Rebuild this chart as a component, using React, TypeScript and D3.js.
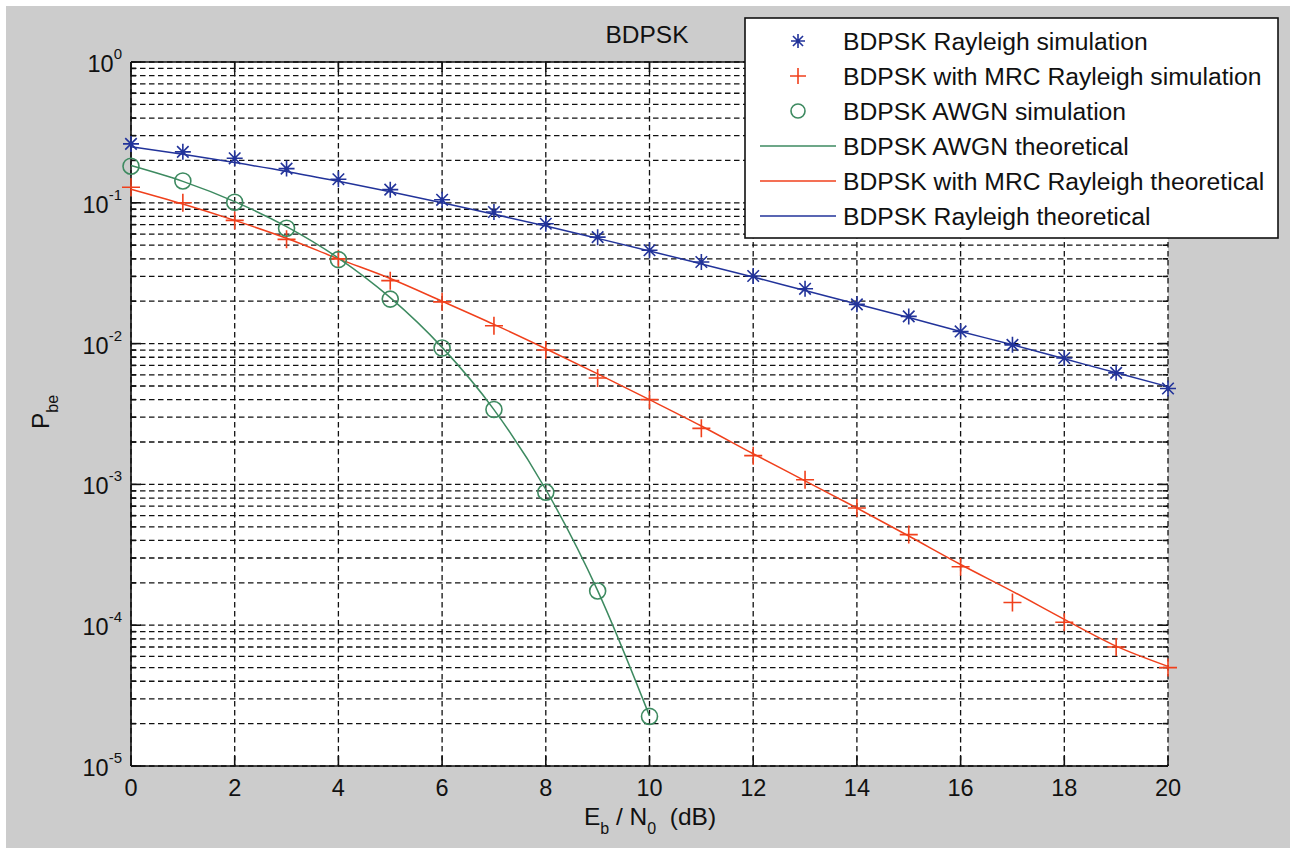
import React from "react";
import * as d3 from "d3";

// Eb/N0 (dB) sample points
const snrDb = [0, 1, 2, 3, 4, 5, 6, 7, 8, 9, 10, 11, 12, 13, 14, 15, 16, 17, 18, 19, 20];
const snrAwgn = [0, 1, 2, 3, 4, 5, 6, 7, 8, 9, 10];

// values
const rayleighSim = [0.262, 0.23, 0.207, 0.175, 0.147, 0.124, 0.105, 0.086, 0.071, 0.057, 0.046, 0.038, 0.0302, 0.0245, 0.019, 0.0156, 0.0122, 0.0098, 0.0079, 0.0062, 0.0048];
const rayleighTheory = [0.25, 0.221, 0.193, 0.167, 0.142, 0.12, 0.1, 0.083, 0.0684, 0.0559, 0.0455, 0.0368, 0.0297, 0.0238, 0.0191, 0.0153, 0.0122, 0.0098, 0.0078, 0.0062, 0.00495];
const mrcSim = [0.129, 0.1, 0.075, 0.055, 0.04, 0.028, 0.0198, 0.0134, 0.009, 0.0057, 0.004, 0.0025, 0.0016, 0.00108, 0.00068, 0.00044, 0.00026, 0.000145, 0.000105, 0.00007, 0.00005];
const mrcTheory = [0.125, 0.098, 0.075, 0.056, 0.04, 0.029, 0.02, 0.0137, 0.0092, 0.0061, 0.004, 0.0026, 0.00165, 0.00106, 0.00068, 0.00043, 0.00027, 0.000174, 0.00011, 0.000071, 0.000051];
const awgnSim = [0.182, 0.143, 0.101, 0.066, 0.0395, 0.0207, 0.0093, 0.0034, 0.00088, 0.000175, 0.0000225];
const awgnTheory = [0.184, 0.142, 0.102, 0.0677, 0.0405, 0.0212, 0.0094, 0.0034, 0.00092, 0.000176, 0.0000227];

const yDecades = [0, -1, -2, -3, -4, -5];
const legendLabels = [
  "BDPSK Rayleigh simulation",
  "BDPSK with MRC Rayleigh simulation",
  "BDPSK AWGN simulation",
  "BDPSK AWGN theoretical",
  "BDPSK with MRC Rayleigh theoretical",
  "BDPSK Rayleigh theoretical",
];

const W = 1290;
const H = 848;
const plot = { left: 131, right: 1168, top: 62, bottom: 766 };
const FONT = "'Liberation Sans', Arial, Helvetica, sans-serif";
const BLUE = "#22339a";
const RED = "#f0401c";
const GREEN = "#3d8a60";

const starPath = (s: number) => {
  const d = s * 0.72;
  return `M${-s},0H${s}M0,${-s}V${s}M${-d},${-d}L${d},${d}M${-d},${d}L${d},${-d}`;
};
const plusPath = (s: number) => `M${-s},0H${s}M0,${-s}V${s}`;

export default function App() {
  const x = d3.scaleLinear().domain([0, 20]).range([plot.left, plot.right]);
  const y = d3.scaleLog().domain([1e-5, 1]).range([plot.bottom, plot.top]);

  const line = (xs: number[], ys: number[]) =>
    d3
      .line<number>()
      .x((d, i) => x(xs[i]))
      .y((d) => y(d))
      .curve(d3.curveMonotoneX)(ys) || "";

  const yTicks = y.ticks();
  const xTicks = x.ticks(10);
  const isMajor = (v: number) => Math.abs(Math.log10(v) - Math.round(Math.log10(v))) < 1e-9;

  const grid = { stroke: "#111", strokeWidth: 1.3, strokeDasharray: "5.5,3.5" };

  return (
    <svg
      width={W}
      height={H}
      style={{ position: "absolute", left: 0, top: 0, fontFamily: FONT }}
    >
      <rect x={0} y={0} width={W} height={H} fill="#fff" />
      <rect x={6} y={6} width={W - 6} height={H - 6} fill="#cccccc" />
      <rect
        x={plot.left}
        y={plot.top}
        width={plot.right - plot.left}
        height={plot.bottom - plot.top}
        fill="#fff"
      />

      {/* grid */}
      {yTicks.map((v, i) => (
        <line key={"gy" + i} x1={plot.left} x2={plot.right} y1={y(v)} y2={y(v)} {...grid} />
      ))}
      {xTicks.map((v, i) => (
        <line key={"gx" + i} x1={x(v)} x2={x(v)} y1={plot.top} y2={plot.bottom} {...grid} />
      ))}

      {/* axes */}
      <g stroke="#111" strokeWidth={1.6}>
        <line x1={plot.left} x2={plot.right} y1={plot.bottom} y2={plot.bottom} />
        <line x1={plot.left} x2={plot.right} y1={plot.top} y2={plot.top} />
        <line x1={plot.left} x2={plot.left} y1={plot.top} y2={plot.bottom} />
        {yTicks.map((v, i) => {
          const len = isMajor(v) ? 10 : 5;
          return (
            <g key={"ty" + i}>
              <line x1={plot.left} x2={plot.left + len} y1={y(v)} y2={y(v)} />
              <line x1={plot.right} x2={plot.right - len} y1={y(v)} y2={y(v)} />
            </g>
          );
        })}
        {xTicks.map((v, i) => (
          <g key={"tx" + i}>
            <line x1={x(v)} x2={x(v)} y1={plot.bottom} y2={plot.bottom - 10} />
            <line x1={x(v)} x2={x(v)} y1={plot.top} y2={plot.top + 10} />
          </g>
        ))}
      </g>

      {/* tick labels */}
      {yDecades.map((k) => (
        <text key={"ly" + k} x={122} y={y(Math.pow(10, k)) + 10} textAnchor="end" fontSize={23.5} fill="#111">
          10
          <tspan fontSize={15} dy={-13}>
            {k}
          </tspan>
        </text>
      ))}
      {xTicks.map((v) => (
        <text key={"lx" + v} x={x(v)} y={796} textAnchor="middle" fontSize={23.5} fill="#111">
          {v}
        </text>
      ))}

      {/* titles */}
      <text x={647} y={43} textAnchor="middle" fontSize={24.5} fill="#111">
        BDPSK
      </text>
      <text x={650} y={825} textAnchor="middle" fontSize={24.5} fill="#111">
        E
        <tspan fontSize={16} dy={9}>b</tspan>
        <tspan dy={-9}> / N</tspan>
        <tspan fontSize={16} dy={9}>0</tspan>
        <tspan dy={-9} xmlSpace="preserve">{"  (dB)"}</tspan>
      </text>
      <text
        transform={`translate(49,412) rotate(-90)`}
        textAnchor="middle"
        fontSize={24.5}
        fill="#111"
      >
        P<tspan fontSize={16} dy={9}>be</tspan>
      </text>

      {/* curves */}
      <path d={line(snrDb, rayleighTheory)} fill="none" stroke={BLUE} strokeWidth={1.5} />
      <path d={line(snrDb, mrcTheory)} fill="none" stroke={RED} strokeWidth={1.5} />
      <path d={line(snrAwgn, awgnTheory)} fill="none" stroke={GREEN} strokeWidth={1.5} />

      {/* markers */}
      {rayleighSim.map((v, i) => (
        <path key={"ms" + i} transform={`translate(${x(snrDb[i])},${y(v)})`} d={starPath(8)} stroke={BLUE} strokeWidth={1.6} fill="none" />
      ))}
      {mrcSim.map((v, i) => (
        <path key={"mp" + i} transform={`translate(${x(snrDb[i])},${y(v)})`} d={plusPath(9)} stroke={RED} strokeWidth={1.6} fill="none" />
      ))}
      {awgnSim.map((v, i) => (
        <circle key={"mc" + i} cx={x(snrAwgn[i])} cy={y(v)} r={8} stroke={GREEN} strokeWidth={1.6} fill="none" />
      ))}

      {/* legend */}
      <g>
        <rect x={745} y={18} width={533} height={220} fill="#fff" stroke="#111" strokeWidth={1.6} />
        {legendLabels.map((label, i) => {
          const cy = 41 + i * 35;
          return (
            <g key={"lg" + i}>
              {i === 0 && <path transform={`translate(798,${cy})`} d={starPath(7)} stroke={BLUE} strokeWidth={1.6} fill="none" />}
              {i === 1 && <path transform={`translate(798,${cy})`} d={plusPath(8)} stroke={RED} strokeWidth={1.6} fill="none" />}
              {i === 2 && <circle cx={798} cy={cy} r={7} stroke={GREEN} strokeWidth={1.6} fill="none" />}
              {i >= 3 && (
                <line x1={760} x2={836} y1={cy} y2={cy} stroke={[GREEN, RED, BLUE][i - 3]} strokeWidth={1.5} />
              )}
              <text x={843} y={cy + 9} fontSize={24.7} fill="#111">
                {label}
              </text>
            </g>
          );
        })}
      </g>
    </svg>
  );
}
